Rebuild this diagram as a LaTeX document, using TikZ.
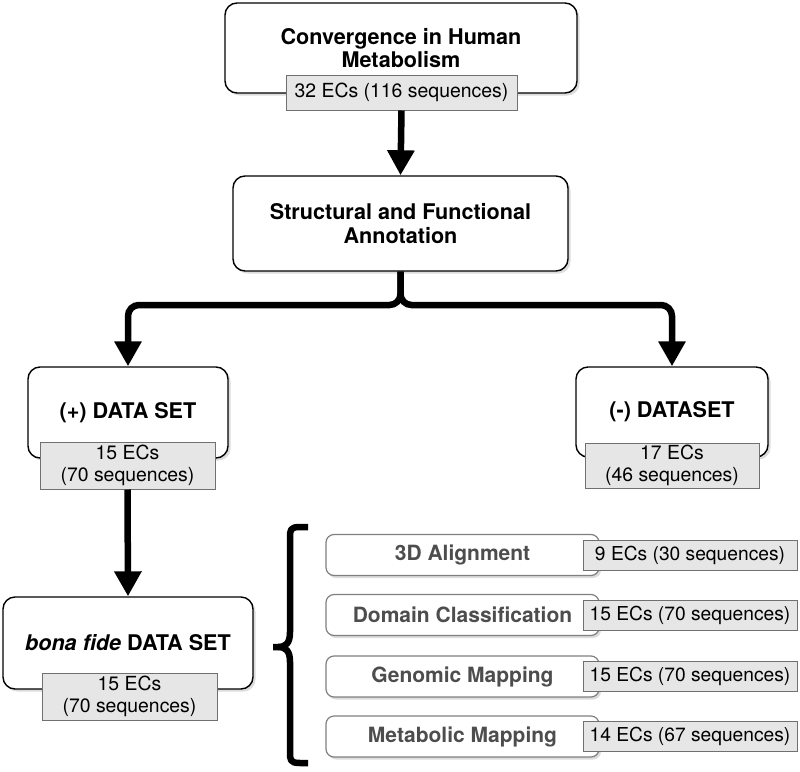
\documentclass[tikz,border=0pt]{standalone}
\usepackage{fontspec}
\setmainfont{TeX Gyre Heros}
\usetikzlibrary{arrows.meta,shadows}
\definecolor{labfill}{HTML}{E6E6E6}
\definecolor{labdraw}{HTML}{707070}
\definecolor{subtext}{HTML}{4D4D4D}
\definecolor{subdraw}{HTML}{808080}
\tikzset{
  mainbox/.style={draw=black, line width=1.4pt, fill=white, rounded corners=12pt,
    align=center, inner sep=0pt, font=\bfseries\fontsize{21.6}{23.5}\selectfont,
    drop shadow={shadow xshift=2.5pt, shadow yshift=-2.5pt, opacity=0.28}},
  labbox/.style={draw=labdraw, line width=1pt, fill=labfill, align=center, inner sep=0pt,
    font=\fontsize{19.4}{22}\selectfont},
  subbox/.style={draw=subdraw, line width=1.2pt, fill=white, rounded corners=8pt,
    align=center, inner sep=0pt, text=subtext, font=\bfseries\fontsize{21}{23}\selectfont,
    minimum width=273pt, minimum height=41pt,
    drop shadow={shadow xshift=2pt, shadow yshift=-2.5pt, opacity=0.28}},
  sublab/.style={labbox, minimum width=214pt, minimum height=30pt, font=\fontsize{19.2}{22}\selectfont},
  flow/.style={line width=6.5pt, -{Triangle[width=26pt,length=25pt]}},
  branch/.style={line width=6.5pt, rounded corners=11pt, -{Triangle[width=26pt,length=25pt]}},
}
\begin{document}
\begin{tikzpicture}[x=1pt,y=-1pt]
\useasboundingbox (0,0) rectangle (800,771);
% top
\node[mainbox, minimum width=352pt, minimum height=90pt] (top) at (401,48) {Convergence in Human\\Metabolism};
\node[labbox, minimum width=231pt, minimum height=35pt] (toplab) at (401.5,92.5) {32 ECs (116 sequences)};
% second
\node[mainbox, minimum width=335pt, minimum height=95pt] (sfa) at (400.5,223.5) {Structural and Functional\\Annotation};
\draw[flow] (toplab.south) -- (sfa.north);
% datasets
\node[mainbox, minimum width=200pt, minimum height=91pt] (pos) at (128,412.5) {(+) DATA SET};
\node[labbox, minimum width=175pt, minimum height=47pt] (poslab) at (127.5,465.5) {15 ECs\\(70 sequences)};
\node[mainbox, minimum width=192pt, minimum height=90pt] (neg) at (672,412) {(-) DATASET};
\node[labbox, minimum width=174pt, minimum height=45pt] (neglab) at (672,465.5) {17 ECs\\(46 sequences)};
\coordinate (junc) at (400.5,305);
\draw[branch] (sfa.south) -- (junc) -| (pos.north);
\draw[branch] (sfa.south) -- (junc) -| (neg.north);
% bona fide
\node[mainbox, minimum width=250pt, minimum height=92pt] (bona) at (128,643) {\textit{bona fide} DATA SET};
\node[labbox, minimum width=175pt, minimum height=47pt] (bonalab) at (129.5,696.5) {15 ECs\\(70 sequences)};
\draw[flow] (poslab.south) -- (bona.north);
% brace
\coordinate (bt) at (308,527);
\coordinate (bb) at (308,763);
\coordinate (bm) at (273,647);
\draw[line width=6.5pt, line cap=butt, line join=round]
  (bt) -- (300,527) .. controls (290,527) and (290,530) .. (290,538)
  -- (290,632) .. controls (290,643) and (286,647) .. (278,647) -- (bm);
\draw[line width=6.5pt, line cap=butt, line join=round]
  (bb) -- (300,763) .. controls (290,763) and (290,760) .. (290,752)
  -- (290,662) .. controls (290,651) and (286,647) .. (278,647);
% sub boxes
\node[subbox] (s1) at (462.5,555) {3D Alignment};
\node[sublab] (l1) at (690,555.5) {9 ECs (30 sequences)};
\node[subbox] (s2) at (462.5,615) {Domain Classification};
\node[sublab] (l2) at (690,615) {15 ECs (70 sequences)};
\node[subbox] (s3) at (462.5,676.5) {Genomic Mapping};
\node[sublab] (l3) at (690,676.5) {15 ECs (70 sequences)};
\node[subbox] (s4) at (462.5,736.5) {Metabolic Mapping};
\node[sublab] (l4) at (690,736.5) {14 ECs (67 sequences)};
\end{tikzpicture}
\end{document}
